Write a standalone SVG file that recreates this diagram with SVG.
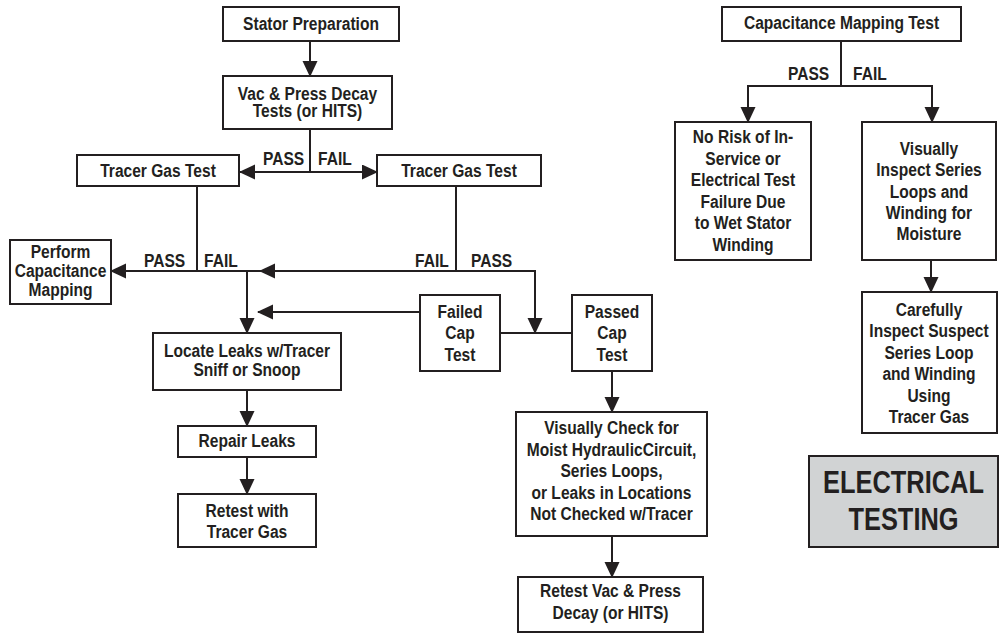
<svg xmlns="http://www.w3.org/2000/svg" width="1001" height="635" viewBox="0 0 1001 635">
<style>
.box{fill:#fff;stroke:#231f20;stroke-width:2}
.gray{fill:#d1d3d4;stroke:#231f20;stroke-width:2}
.t{font-family:"Liberation Sans",Arial,sans-serif;font-weight:bold;font-size:19px;fill:#231f20;text-anchor:middle}
.lbl{text-anchor:start}
.big{font-size:31px}
.c{fill:none;stroke:#231f20;stroke-width:2}
.a{marker-end:url(#ah)}
</style>
<defs>
<marker id="ah" markerUnits="userSpaceOnUse" markerWidth="16" markerHeight="16" refX="15" refY="7.5" orient="auto">
<path d="M0,0 L16,7.5 L0,15 z" fill="#231f20"/>
</marker>
</defs>
<g id="connectors">
<path class="c a" d="M310,41 V76"/>
<path class="c" d="M310,129 V172"/>
<path class="c a" d="M310,172 H240"/>
<path class="c a" d="M310,172 H377"/>
<path class="c" d="M197,186 V271"/>
<path class="c a" d="M456,271 H260"/>
<path class="c a" d="M262,271 H111"/>
<path class="c a" d="M456,186 V271 H535 V333"/>
<path class="c a" d="M247,271 V333"/>
<path class="c a" d="M420,312 H258"/>
<path class="c" d="M500,333 H572"/>
<path class="c a" d="M612,371 V412"/>
<path class="c a" d="M612,536 V577"/>
<path class="c a" d="M247,390 V426"/>
<path class="c a" d="M247,457 V494"/>
<path class="c" d="M841,41 V86"/>
<path class="c" d="M747,86 H933"/>
<path class="c a" d="M748,86 V122"/>
<path class="c a" d="M932,86 V122"/>
<path class="c a" d="M931,260 V292"/>
</g>
<g id="labels">
<text class="t lbl" transform="translate(263,165) scale(.82,1)">PASS</text>
<text class="t lbl" transform="translate(318,165) scale(.82,1)">FAIL</text>
<text class="t lbl" transform="translate(144,267) scale(.82,1)">PASS</text>
<text class="t lbl" transform="translate(204,267) scale(.82,1)">FAIL</text>
<text class="t lbl" transform="translate(415,267) scale(.82,1)">FAIL</text>
<text class="t lbl" transform="translate(471,267) scale(.82,1)">PASS</text>
<text class="t lbl" transform="translate(788,80) scale(.82,1)">PASS</text>
<text class="t lbl" transform="translate(853,80) scale(.82,1)">FAIL</text>
</g>
<g id="stator-prep"><rect class="box" x="223" y="7" width="176" height="34"/><text class="t" transform="translate(311,30) scale(.82,1)">Stator Preparation</text></g>
<g id="vac-press"><rect class="box" x="223" y="76" width="169" height="53"/><text class="t" transform="translate(307.5,100) scale(.82,1)">Vac &amp; Press Decay</text><text class="t" transform="translate(307.5,117) scale(.82,1)">Tests (or HITS)</text></g>
<g id="tracer-left"><rect class="box" x="77" y="155" width="162" height="31"/><text class="t" transform="translate(158,177) scale(.82,1)">Tracer Gas Test</text></g>
<g id="tracer-right"><rect class="box" x="377" y="155" width="164" height="31"/><text class="t" transform="translate(459,177) scale(.82,1)">Tracer Gas Test</text></g>
<g id="perform-cap"><rect class="box" x="10" y="240" width="101" height="64"/><text class="t" transform="translate(60.5,258) scale(.82,1)">Perform</text><text class="t" transform="translate(60.5,277) scale(.82,1)">Capacitance</text><text class="t" transform="translate(60.5,296) scale(.82,1)">Mapping</text></g>
<g id="locate-leaks"><rect class="box" x="153" y="333" width="188" height="57"/><text class="t" transform="translate(247,357) scale(.82,1)">Locate Leaks w/Tracer</text><text class="t" transform="translate(247,376) scale(.82,1)">Sniff or Snoop</text></g>
<g id="failed-cap"><rect class="box" x="420" y="295" width="80" height="76"/><text class="t" transform="translate(460,318) scale(.82,1)">Failed</text><text class="t" transform="translate(460,339) scale(.82,1)">Cap</text><text class="t" transform="translate(460,361) scale(.82,1)">Test</text></g>
<g id="passed-cap"><rect class="box" x="572" y="295" width="80" height="76"/><text class="t" transform="translate(612,318) scale(.82,1)">Passed</text><text class="t" transform="translate(612,339) scale(.82,1)">Cap</text><text class="t" transform="translate(612,361) scale(.82,1)">Test</text></g>
<g id="repair-leaks"><rect class="box" x="178" y="426" width="138" height="31"/><text class="t" transform="translate(247,447) scale(.82,1)">Repair Leaks</text></g>
<g id="retest-tracer"><rect class="box" x="178" y="494" width="138" height="53"/><text class="t" transform="translate(247,517) scale(.82,1)">Retest with</text><text class="t" transform="translate(247,538) scale(.82,1)">Tracer Gas</text></g>
<g id="visually-check"><rect class="box" x="516" y="412" width="191" height="124"/><text class="t" transform="translate(611.5,434) scale(.82,1)">Visually Check for</text><text class="t" transform="translate(611.5,455.5) scale(.82,1)">Moist HydraulicCircuit,</text><text class="t" transform="translate(611.5,477) scale(.82,1)">Series Loops,</text><text class="t" transform="translate(611.5,498.5) scale(.82,1)">or Leaks in Locations</text><text class="t" transform="translate(611.5,520) scale(.82,1)">Not Checked w/Tracer</text></g>
<g id="retest-vac"><rect class="box" x="518" y="577" width="185" height="55"/><text class="t" transform="translate(610.5,597) scale(.82,1)">Retest Vac &amp; Press</text><text class="t" transform="translate(610.5,619) scale(.82,1)">Decay (or HITS)</text></g>
<g id="cap-map-test"><rect class="box" x="722" y="7" width="239" height="34"/><text class="t" transform="translate(841.5,29) scale(.82,1)">Capacitance Mapping Test</text></g>
<g id="no-risk"><rect class="box" x="675" y="122" width="136" height="138"/><text class="t" transform="translate(743,143) scale(.82,1)">No Risk of In-</text><text class="t" transform="translate(743,164.5) scale(.82,1)">Service or</text><text class="t" transform="translate(743,186) scale(.82,1)">Electrical Test</text><text class="t" transform="translate(743,207.5) scale(.82,1)">Failure Due</text><text class="t" transform="translate(743,229) scale(.82,1)">to Wet Stator</text><text class="t" transform="translate(743,250.5) scale(.82,1)">Winding</text></g>
<g id="visually-inspect"><rect class="box" x="862" y="122" width="134" height="138"/><text class="t" transform="translate(929,155) scale(.82,1)">Visually</text><text class="t" transform="translate(929,176) scale(.82,1)">Inspect Series</text><text class="t" transform="translate(929,197.5) scale(.82,1)">Loops and</text><text class="t" transform="translate(929,219) scale(.82,1)">Winding for</text><text class="t" transform="translate(929,240) scale(.82,1)">Moisture</text></g>
<g id="carefully-inspect"><rect class="box" x="862" y="292" width="135" height="141"/><text class="t" transform="translate(929,316) scale(.82,1)">Carefully</text><text class="t" transform="translate(929,337.4) scale(.82,1)">Inspect Suspect</text><text class="t" transform="translate(929,358.8) scale(.82,1)">Series Loop</text><text class="t" transform="translate(929,380.2) scale(.82,1)">and Winding</text><text class="t" transform="translate(929,401.6) scale(.82,1)">Using</text><text class="t" transform="translate(929,423) scale(.82,1)">Tracer Gas</text></g>
<g id="electrical-testing"><rect class="gray" x="809" y="456" width="189" height="91"/><text class="t big" transform="translate(903.5,493) scale(.82,1)">ELECTRICAL</text><text class="t big" transform="translate(903.5,530) scale(.82,1)">TESTING</text></g>
</svg>
